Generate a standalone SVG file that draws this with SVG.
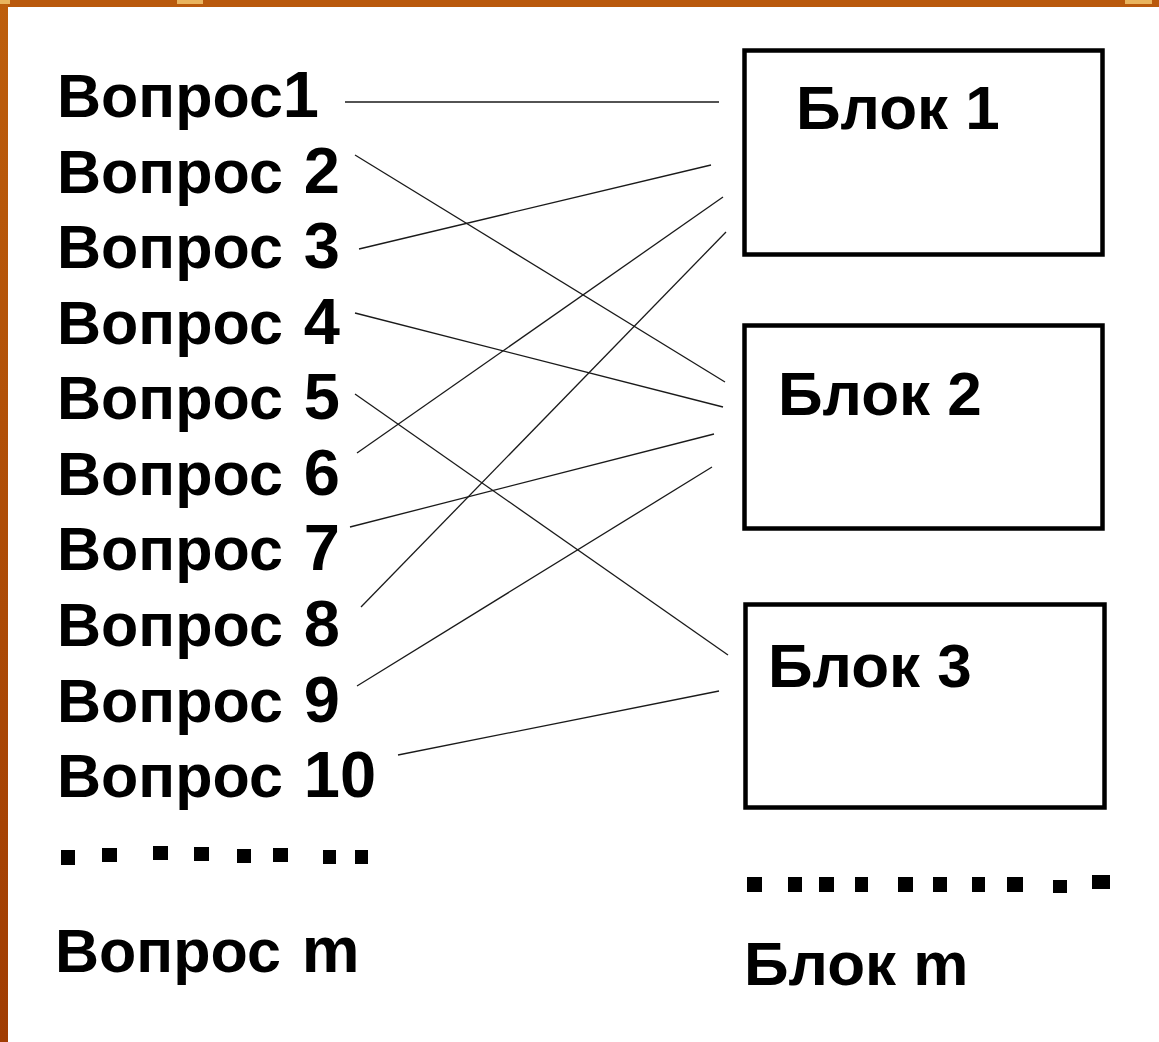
<svg xmlns="http://www.w3.org/2000/svg" width="1159" height="1042" viewBox="0 0 1159 1042">
<defs>
<linearGradient id="lb" x1="0" y1="0" x2="0" y2="1"><stop offset="0" stop-color="#bd5e0c"/><stop offset="1" stop-color="#a03c02"/></linearGradient>
<style>
.q{font-family:"Liberation Sans",Arial,sans-serif;font-weight:bold;font-size:61px;word-spacing:4px;fill:#000}
.q tspan{font-size:65px}
.b{font-family:"Liberation Sans",Arial,sans-serif;font-weight:bold;font-size:62px;fill:#000}
.box{fill:#fff;stroke:#000;stroke-width:4.5}
.c line{stroke:#1a1a1a;stroke-width:1.3}
.d rect{fill:#000}
</style>
</defs>
<rect width="1159" height="1042" fill="#fff"/>
<g id="border">
<rect x="0" y="0" width="1159" height="7" fill="#b9590c"/>
<rect x="0" y="0" width="8" height="1042" fill="url(#lb)"/>
<rect x="0" y="0" width="10" height="4" fill="#e9b45e"/>
<rect x="177" y="0" width="26" height="4" fill="#e9b45e"/>
<rect x="1125" y="0" width="27" height="4" fill="#e9b45e"/>
</g>
<g id="connectors" class="c">
<line x1="345" y1="102" x2="719" y2="102"/>
<line x1="355" y1="155" x2="725" y2="382"/>
<line x1="359" y1="249" x2="711" y2="165"/>
<line x1="355" y1="313" x2="723" y2="407"/>
<line x1="355" y1="394" x2="728" y2="655"/>
<line x1="357" y1="453" x2="723" y2="197"/>
<line x1="350" y1="527" x2="714" y2="434"/>
<line x1="361" y1="607" x2="726" y2="232"/>
<line x1="357" y1="686" x2="712" y2="467"/>
<line x1="398" y1="755" x2="719" y2="691"/>
</g>
<g id="q1"><text class="q" x="57" y="117">Вопрос<tspan>1</tspan></text></g>
<g id="q2"><text class="q" x="57" y="193">Вопрос <tspan>2</tspan></text></g>
<g id="q3"><text class="q" x="57" y="268">Вопрос <tspan>3</tspan></text></g>
<g id="q4"><text class="q" x="57" y="344">Вопрос <tspan>4</tspan></text></g>
<g id="q5"><text class="q" x="57" y="419">Вопрос <tspan>5</tspan></text></g>
<g id="q6"><text class="q" x="57" y="495">Вопрос <tspan>6</tspan></text></g>
<g id="q7"><text class="q" x="57" y="570">Вопрос <tspan>7</tspan></text></g>
<g id="q8"><text class="q" x="57" y="646">Вопрос <tspan>8</tspan></text></g>
<g id="q9"><text class="q" x="57" y="722">Вопрос <tspan>9</tspan></text></g>
<g id="q10"><text class="q" x="57" y="797">Вопрос <tspan>10</tspan></text></g>
<g id="qm"><text class="q" x="55" y="972">Вопрос <tspan>m</tspan></text></g>
<g id="b1"><rect class="box" x="744.5" y="50.5" width="358" height="204"/><text class="b" x="796" y="129">Блок 1</text></g>
<g id="b2"><rect class="box" x="744.5" y="325.5" width="358" height="203"/><text class="b" x="778" y="415">Блок 2</text></g>
<g id="b3"><rect class="box" x="745.5" y="604.5" width="359" height="203"/><text class="b" x="768" y="687">Блок 3</text></g>
<g id="bm"><text class="b" x="744" y="985">Блок m</text></g>
<g id="dots-left" class="d">
<rect x="61" y="850" width="14" height="15"/>
<rect x="102" y="848" width="15" height="14"/>
<rect x="153" y="846" width="15" height="14"/>
<rect x="194" y="847" width="15" height="14"/>
<rect x="237" y="849" width="14" height="14"/>
<rect x="273" y="848" width="15" height="14"/>
<rect x="323" y="850" width="13" height="14"/>
<rect x="355" y="850" width="13" height="14"/>
</g>
<g id="dots-right" class="d">
<rect x="747" y="877" width="15" height="15"/>
<rect x="788" y="877" width="14" height="15"/>
<rect x="819" y="877" width="15" height="15"/>
<rect x="855" y="877" width="13" height="15"/>
<rect x="898" y="877" width="15" height="15"/>
<rect x="933" y="877" width="14" height="15"/>
<rect x="972" y="877" width="13" height="15"/>
<rect x="1007" y="877" width="16" height="15"/>
<rect x="1053" y="880" width="14" height="13"/>
<rect x="1092" y="875" width="18" height="14"/>
</g>
</svg>
